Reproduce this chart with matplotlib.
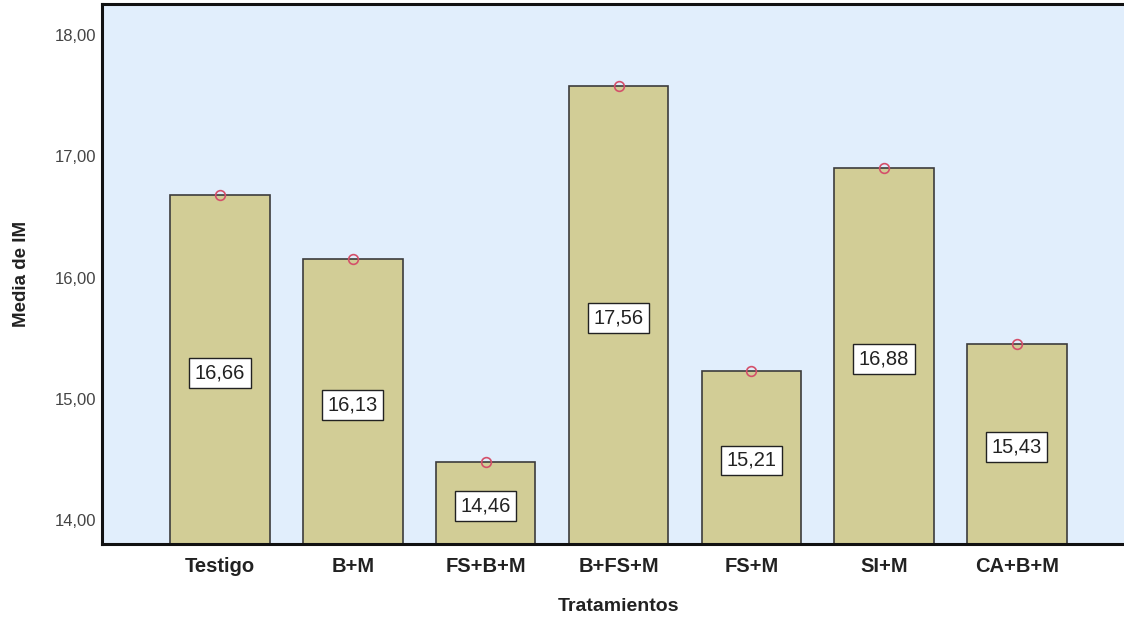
import matplotlib
matplotlib.use("Agg")
import matplotlib.pyplot as plt
from matplotlib.transforms import ScaledTranslation

plt.rcParams['font.family'] = ['Liberation Sans', 'DejaVu Sans']

tratamientos = ["Testigo", "B+M", "FS+B+M", "B+FS+M", "FS+M", "SI+M", "CA+B+M"]
media_im = [16.66, 16.13, 14.46, 17.56, 15.21, 16.88, 15.43]
y_ticks = [14.0, 15.0, 16.0, 17.0, 18.0]
y_min, y_max = 13.781, 18.237

fig = plt.figure(figsize=(11.24, 6.17), dpi=100)
ax = fig.add_axes([102 / 1124, 1 - 544 / 617, 1033 / 1124, 540 / 617])
ax.set_facecolor("#e1eefc")

x = list(range(len(tratamientos)))
ax.bar(x, [v - y_min for v in media_im], bottom=y_min, width=0.75,
       color="#d2cd96", edgecolor="#3c3c3c", linewidth=1.2, zorder=2)
ax.plot(x, media_im, linestyle="none", marker="o", markersize=7,
        markerfacecolor="none", markeredgecolor="#d4506a", markeredgewidth=1.2,
        zorder=4)

for xi, v in zip(x, media_im):
    ax.annotate(f"{v:.2f}".replace(".", ","), xy=(xi, (y_min + v) / 2),
                xytext=(0, -2.2), textcoords="offset points",
                ha="center", va="center", fontsize=14.5, color="#222222", zorder=5,
                bbox=dict(boxstyle="square,pad=0.27", facecolor="white",
                          edgecolor="#222222", linewidth=1.0))

ax.set_xlim(-0.889, len(tratamientos) - 1 + 0.889)
ax.set_ylim(y_min, y_max)
ax.set_xticks(x)
ax.set_xticklabels(tratamientos, fontsize=14.5, fontweight="bold", color="#222222")
ax.set_yticks(y_ticks)
ax.set_yticklabels([f"{t:.2f}".replace(".", ",") for t in y_ticks],
                   fontsize=12, color="#444444")
ax.tick_params(axis="both", length=0)
ax.tick_params(axis="x", pad=9)
ax.tick_params(axis="y", pad=4)

# y tick labels sit a couple of pixels below their gridline positions
shift = ScaledTranslation(0, -2.5 / 100, fig.dpi_scale_trans)
for lbl in ax.get_yticklabels():
    lbl.set_transform(lbl.get_transform() + shift)

for side in ("left", "bottom", "top"):
    ax.spines[side].set_linewidth(2.2)
    ax.spines[side].set_color("#111111")
ax.spines["right"].set_visible(False)

ax.set_xlabel("Tratamientos", fontsize=14, fontweight="bold", color="#222222", labelpad=16)
ax.set_ylabel("Media de IM", fontsize=13.5, fontweight="bold", color="#222222", labelpad=18)

fig.savefig("out.png", dpi=100)
